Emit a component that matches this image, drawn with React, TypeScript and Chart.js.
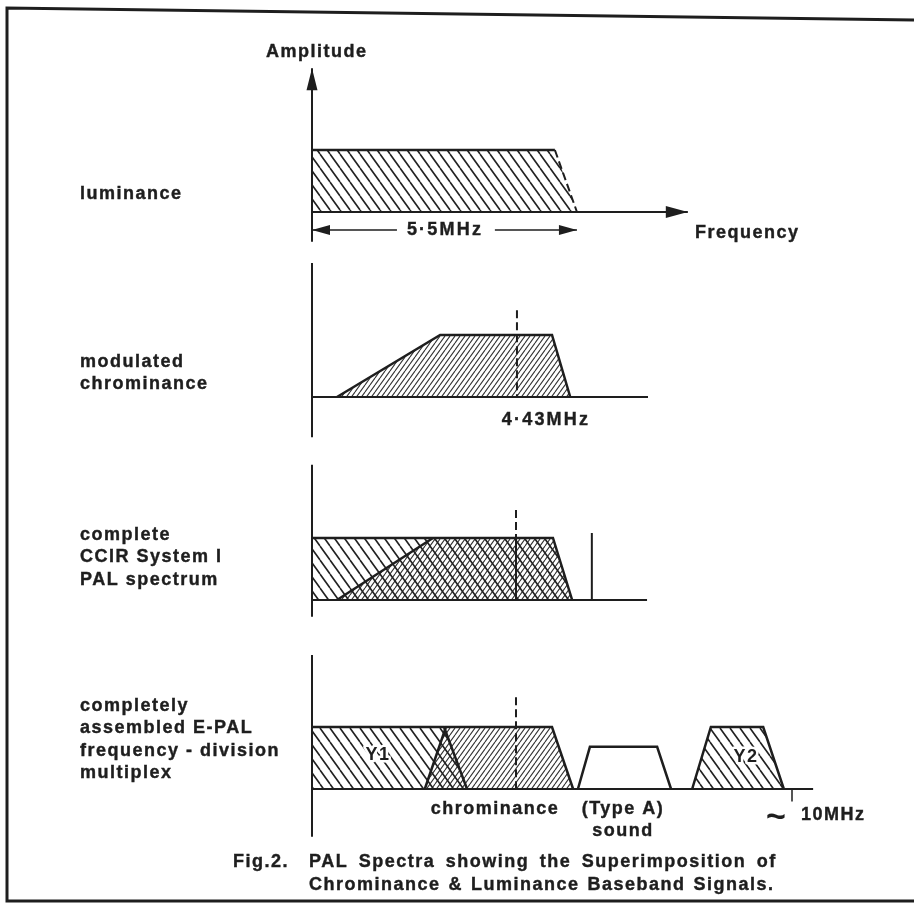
import { useEffect, useRef } from "react";
import { Chart, registerables } from "chart.js";

Chart.register(...registerables);

// ---------------- data (frequency in MHz, amplitude normalised: flat top = 1) ----------------
const PANEL_LABELS = [
  ["luminance"],
  ["modulated", "chrominance"],
  ["complete", "CCIR System I", "PAL spectrum"],
  ["completely", "assembled E-PAL", "frequency - division", "multiplex"],
];

const LUMA_FREQ = [0, 0, 5.06, 5.52];
const LUMA_AMP = [0, 1, 1, 0];

const CHROMA_FREQ = [0.52, 2.67, 5.0, 5.38];
const CHROMA_AMP = [0, 1, 1, 0];

const PAL_LUMA_FREQ = [0, 0, 5.02, 5.42];
const PAL_LUMA_AMP = [0, 1, 1, 0];
const PAL_CHROMA_FREQ = [0.52, 2.52, 5.02, 5.42];
const PAL_CHROMA_AMP = [0, 1, 1, 0];

const Y1_FREQ = [0, 0, 2.75, 3.23];
const Y1_AMP = [0, 1, 1, 0];
const EPAL_CHROMA_FREQ = [2.35, 2.79, 5.0, 5.44];
const EPAL_CHROMA_AMP = [0, 1, 1, 0];
const SOUND_FREQ = [5.54, 5.79, 7.19, 7.48];
const SOUND_AMP = [0, 0.68, 0.68, 0];
const Y2_FREQ = [7.92, 8.31, 9.4, 9.83];
const Y2_AMP = [0, 1, 1, 0];

const SUBCARRIER_FREQ = [4.27, 4.25, 4.25]; // panels 2, 3, 4 (as drawn)
const SUBCARRIER_TOP = [1.4, 1.45, 1.48];
const SOUND_CARRIER_FREQ = 5.83;
const SOUND_CARRIER_AMP = 1.08;
const LUMA_BANDWIDTH = 5.52;
const END_FREQ = 10;

const TICK_LABELS = ["5·5MHz", "4·43MHz", "10MHz"];
const BAND_LABELS = ["Y1", "chrominance", "(Type A)", "sound", "Y2"];
const AXIS_TITLES = ["Amplitude", "Frequency"];
const CAPTION = [
  "Fig.2.",
  "PAL Spectra showing the Superimposition of",
  "Chrominance & Luminance Baseband Signals.",
];

// axis extents per panel (MHz / amplitude)
const AXIS_FREQ_END = [7.83, 7.0, 6.98, 10.44];
const AXIS_AMP_TOP = [2.32, 2.16, 2.18, 2.16];
const AXIS_AMP_BOTTOM = [-0.48, -0.65, -0.27, -0.77];

// ---------------- layout ----------------
const W = 914;
const H = 904;
const PX_PER_MHZ = 48;
const ORIGIN_X = 312;
const PX_PER_AMP = 62;
const PANEL_BASE = [212, 397, 600, 789].map((p) => (H - p) / PX_PER_AMP);
const INK = "#1e1e1e";
const FONT = 'bold 18px "Liberation Sans", Arial, sans-serif';

function hatch(period: number, rise: number, back: boolean, width: number, color: string) {
  const c = document.createElement("canvas");
  c.width = period;
  c.height = Math.round(period * rise);
  const g = c.getContext("2d")!;
  g.strokeStyle = color;
  g.lineWidth = width;
  g.beginPath();
  for (let k = -1; k <= 1; k++) {
    if (back) {
      g.moveTo(k * period, 0);
      g.lineTo(k * period + period, c.height);
    } else {
      g.moveTo(k * period + period, 0);
      g.lineTo(k * period, c.height);
    }
  }
  g.stroke();
  return g.createPattern(c, "repeat")!;
}

const pts = (freq: number[], amp: number[], panel: number) =>
  freq.map((f, i) => ({ x: f, y: PANEL_BASE[panel] + amp[i] }));

export default function App() {
  const ref = useRef<HTMLCanvasElement>(null);

  useEffect(() => {
    const coarse = hatch(10, 1.4, true, 1.6, "#222");
    const fine = hatch(5, 1.4, false, 1.1, "#333");

    const line = (data: any[], extra: any = {}) => ({
      data,
      pointRadius: 0,
      pointHoverRadius: 0,
      tension: 0,
      fill: false,
      borderColor: INK,
      borderWidth: 2.5,
      order: 1,
      clip: false,
      ...extra,
    });
    const area = (data: any[], pattern: CanvasPattern) =>
      line(data, { fill: "shape", backgroundColor: pattern, borderColor: "rgba(0,0,0,0)", borderWidth: 1, order: 3 });
    const dashed = { borderDash: [8, 4], borderWidth: 2 };

    const datasets: any[] = [];
    // axes
    for (let p = 0; p < 4; p++) {
      datasets.push(line([{ x: 0, y: PANEL_BASE[p] + AXIS_AMP_BOTTOM[p] }, { x: 0, y: PANEL_BASE[p] + AXIS_AMP_TOP[p] }], { borderWidth: 2 }));
      datasets.push(line([{ x: 0, y: PANEL_BASE[p] }, { x: AXIS_FREQ_END[p], y: PANEL_BASE[p] }], { borderWidth: 2 }));
    }
    // panel 1: luminance
    datasets.push(area(pts(LUMA_FREQ, LUMA_AMP, 0), coarse));
    datasets.push(line(pts(LUMA_FREQ.slice(1, 3), LUMA_AMP.slice(1, 3), 0)));
    datasets.push(line(pts(LUMA_FREQ.slice(2), LUMA_AMP.slice(2), 0), dashed));
    const dimY = PANEL_BASE[0] - 0.29;
    datasets.push(line([{ x: 0, y: dimY }, { x: 1.77, y: dimY }], { borderWidth: 1.5 }));
    datasets.push(line([{ x: 3.81, y: dimY }, { x: LUMA_BANDWIDTH, y: dimY }], { borderWidth: 1.5 }));

    // panel 2: modulated chrominance
    datasets.push(area(pts(CHROMA_FREQ, CHROMA_AMP, 1), fine));
    datasets.push(line(pts(CHROMA_FREQ, CHROMA_AMP, 1)));
    datasets.push(line([{ x: SUBCARRIER_FREQ[0], y: PANEL_BASE[1] + SUBCARRIER_TOP[0] }, { x: SUBCARRIER_FREQ[0], y: PANEL_BASE[1] }], dashed));

    // panel 3: complete PAL
    datasets.push(area(pts(PAL_LUMA_FREQ, PAL_LUMA_AMP, 2), coarse));
    datasets.push(area(pts(PAL_CHROMA_FREQ, PAL_CHROMA_AMP, 2), fine));
    datasets.push(line(pts(PAL_LUMA_FREQ.slice(1), PAL_LUMA_AMP.slice(1), 2)));
    datasets.push(line(pts(PAL_CHROMA_FREQ.slice(0, 2), PAL_CHROMA_AMP.slice(0, 2), 2)));
    datasets.push(line([{ x: SUBCARRIER_FREQ[1], y: PANEL_BASE[2] + SUBCARRIER_TOP[1] }, { x: SUBCARRIER_FREQ[1], y: PANEL_BASE[2] + 1 }], dashed));
    datasets.push(line([{ x: SUBCARRIER_FREQ[1], y: PANEL_BASE[2] + 1 }, { x: SUBCARRIER_FREQ[1], y: PANEL_BASE[2] }], { borderWidth: 2 }));
    datasets.push(line([{ x: SOUND_CARRIER_FREQ, y: PANEL_BASE[2] + SOUND_CARRIER_AMP }, { x: SOUND_CARRIER_FREQ, y: PANEL_BASE[2] }], { borderWidth: 2 }));

    // panel 4: E-PAL FDM
    datasets.push(area(pts(Y1_FREQ, Y1_AMP, 3), coarse));
    datasets.push(area(pts(EPAL_CHROMA_FREQ, EPAL_CHROMA_AMP, 3), fine));
    datasets.push(area(pts(Y2_FREQ, Y2_AMP, 3), coarse));
    datasets.push(line(pts(Y1_FREQ.slice(1), Y1_AMP.slice(1), 3)));
    datasets.push(line(pts(EPAL_CHROMA_FREQ, EPAL_CHROMA_AMP, 3)));
    datasets.push(line(pts(SOUND_FREQ, SOUND_AMP, 3)));
    datasets.push(line(pts(Y2_FREQ, Y2_AMP, 3)));
    datasets.push(line([{ x: SUBCARRIER_FREQ[2], y: PANEL_BASE[3] + SUBCARRIER_TOP[2] }, { x: SUBCARRIER_FREQ[2], y: PANEL_BASE[3] }], dashed));
    datasets.push(line([{ x: END_FREQ, y: PANEL_BASE[3] }, { x: END_FREQ, y: PANEL_BASE[3] - 0.2 }], { borderWidth: 1.5 }));

    const decor = {
      id: "decor",
      beforeDraw(chart: any) {
        const { ctx } = chart;
        ctx.save();
        ctx.fillStyle = "#fff";
        ctx.fillRect(0, 0, W, H);
        ctx.strokeStyle = INK;
        ctx.lineWidth = 3;
        ctx.beginPath();
        ctx.moveTo(W, 20);
        ctx.lineTo(7, 8);
        ctx.lineTo(7, 901);
        ctx.lineTo(W, 901);
        ctx.stroke();
        ctx.restore();
      },
      afterDatasetsDraw(chart: any) {
        const { ctx } = chart;
        const xs = chart.scales.x;
        const ys = chart.scales.y;
        const px = (f: number) => xs.getPixelForValue(f);
        const py = (p: number, a: number) => ys.getPixelForValue(PANEL_BASE[p] + a);
        const arrow = (tx: number, ty: number, dx: number, dy: number, len: number, half: number) => {
          ctx.beginPath();
          ctx.moveTo(tx, ty);
          ctx.lineTo(tx - dx * len - dy * half, ty - dy * len + dx * half);
          ctx.lineTo(tx - dx * len + dy * half, ty - dy * len - dx * half);
          ctx.closePath();
          ctx.fill();
        };
        ctx.save();
        ctx.fillStyle = INK;
        arrow(px(0), py(0, AXIS_AMP_TOP[0]), 0, -1, 22, 5.5);
        arrow(px(AXIS_FREQ_END[0]), py(0, 0), 1, 0, 22, 6);
        arrow(px(0), py(0, -0.29), -1, 0, 18, 5);
        arrow(px(LUMA_BANDWIDTH), py(0, -0.29), 1, 0, 18, 5);

        const text = (t: string, x: number, y: number) => {
          ctx.strokeText(t, x, y);
          ctx.fillText(t, x, y);
        };
        ctx.font = FONT;
        (ctx as any).letterSpacing = "1.5px";
        ctx.textBaseline = "middle";
        ctx.textAlign = "left";
        ctx.strokeStyle = INK;
        ctx.lineWidth = 0.4;
        const firstLine = [194, 362, 535, 706];
        PANEL_LABELS.forEach((lines, p) =>
          lines.forEach((t, i) => text(t, 80, firstLine[p] + i * 22.5))
        );
        text(AXIS_TITLES[0], 266, 52);
        text(AXIS_TITLES[1], 695, 233);
        text(TICK_LABELS[2], 801, 815);
        text(CAPTION[0], 233, 862);
        (ctx as any).wordSpacing = "4px";
        text(CAPTION[1], 309, 862);
        (ctx as any).wordSpacing = "1.5px";
        text(CAPTION[2], 309, 885);
        (ctx as any).wordSpacing = "0px";
        ctx.textAlign = "center";
        (ctx as any).letterSpacing = "2.2px";
        text(TICK_LABELS[0], 445, 230);
        text(TICK_LABELS[1], 546, 420);
        (ctx as any).letterSpacing = "1.5px";
        text(BAND_LABELS[1], 495, 809);
        text(BAND_LABELS[2], 623, 809);
        text(BAND_LABELS[3], 623, 831);
        ctx.strokeStyle = "#fff";
        ctx.lineWidth = 5;
        ctx.lineJoin = "round";
        ctx.strokeText(BAND_LABELS[0], 378, 755);
        ctx.fillText(BAND_LABELS[0], 378, 755);
        ctx.strokeText(BAND_LABELS[4], 746, 757);
        ctx.fillText(BAND_LABELS[4], 746, 757);
        (ctx as any).letterSpacing = "0px";
        ctx.font = 'bold 34px "Liberation Sans", Arial, sans-serif';
        ctx.fillText("~", 776, 818);
        ctx.restore();
      },
    };

    const chart = new Chart(ref.current!, {
      type: "line",
      data: { datasets },
      options: {
        animation: false,
        responsive: false,
        devicePixelRatio: 1,
        events: [],
        layout: { padding: 0 },
        plugins: { legend: { display: false }, tooltip: { enabled: false }, title: { display: false } },
        scales: {
          x: { type: "linear", display: false, min: -ORIGIN_X / PX_PER_MHZ, max: (W - ORIGIN_X) / PX_PER_MHZ },
          y: { type: "linear", display: false, min: 0, max: H / PX_PER_AMP },
        },
      },
      plugins: [decor],
    } as any);
    return () => chart.destroy();
  }, []);

  return (
    <div style={{ position: "absolute", left: 0, top: 0, width: W, height: H }}>
      <canvas ref={ref} width={W} height={H} style={{ display: "block", width: W, height: H }} />
    </div>
  );
}
